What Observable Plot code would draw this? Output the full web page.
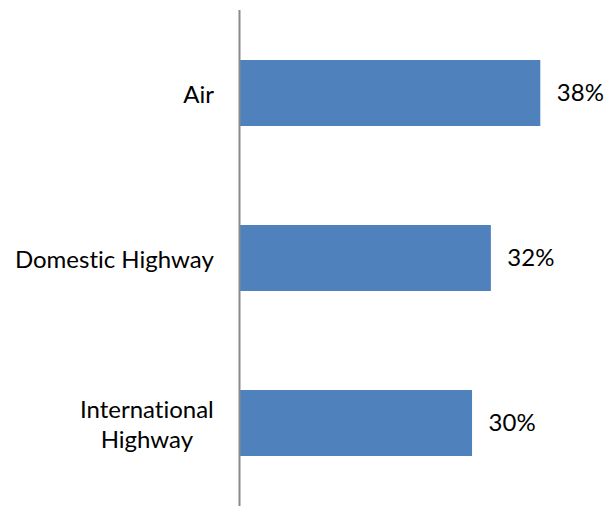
<!DOCTYPE html>
<html>
<head>
<meta charset="utf-8">
<script src="https://cdn.jsdelivr.net/npm/d3@7"></script>
<script src="https://cdn.jsdelivr.net/npm/@observablehq/plot@0.6"></script>
<style>
  html, body { margin: 0; padding: 0; background: #ffffff; }
  #chart { width: 607px; height: 506px; }
  svg, svg text { font-variant-ligatures: none; font-feature-settings: "liga" 0, "dlig" 0; }
</style>
</head>
<body>
<div id="chart"></div>
<script>
// Data
const categories = ["Air", "Domestic Highway", "International\nHighway"];
const shares = [38.4, 32.1, 29.7];           // percent (bar lengths)
const shareLabels = ["38%", "32%", "30%"];   // printed labels

const table = categories.map((c, i) => ({category: c, share: shares[i], label: shareLabels[i]}));

const FONT = "Lato";
const FS = 24;
const ctx = document.createElement("canvas").getContext("2d");
ctx.font = `${FS}px ${FONT}`;
const blockW = c => d3.max(c.split("\n"), l => ctx.measureText(l).width);

const chart = Plot.plot({
  width: 607,
  height: 506,
  marginLeft: 239,
  marginRight: 0,
  marginTop: 10,
  marginBottom: 0,
  style: {fontFamily: FONT, fontSize: FS + "px", color: "#000", background: "#fff"},
  x: {domain: [0, 46.9], axis: null},
  y: {domain: categories, paddingInner: 0.6, paddingOuter: 0.3, axis: null},
  marks: [
    Plot.barX(table, {x: "share", y: "category", fill: "#4F81BD"}),
    Plot.ruleX([0], {stroke: "#8a8a8a", strokeWidth: 2}),
    Plot.text(table, {x: "share", y: "category", text: "label", textAnchor: "start", dx: 16,
      fill: "#000", fontSize: FS, fontFamily: FONT}),
    ...categories.map(c => Plot.text([c], {
      y: d => d, text: d => d, frameAnchor: "left", textAnchor: "middle",
      dx: -(25.5 + blockW(c) / 2), lineHeight: 30 / FS,
      fill: "#000", fontSize: FS, fontFamily: FONT
    }))
  ]
});
document.getElementById("chart").appendChild(chart);
</script>
</body>
</html>
